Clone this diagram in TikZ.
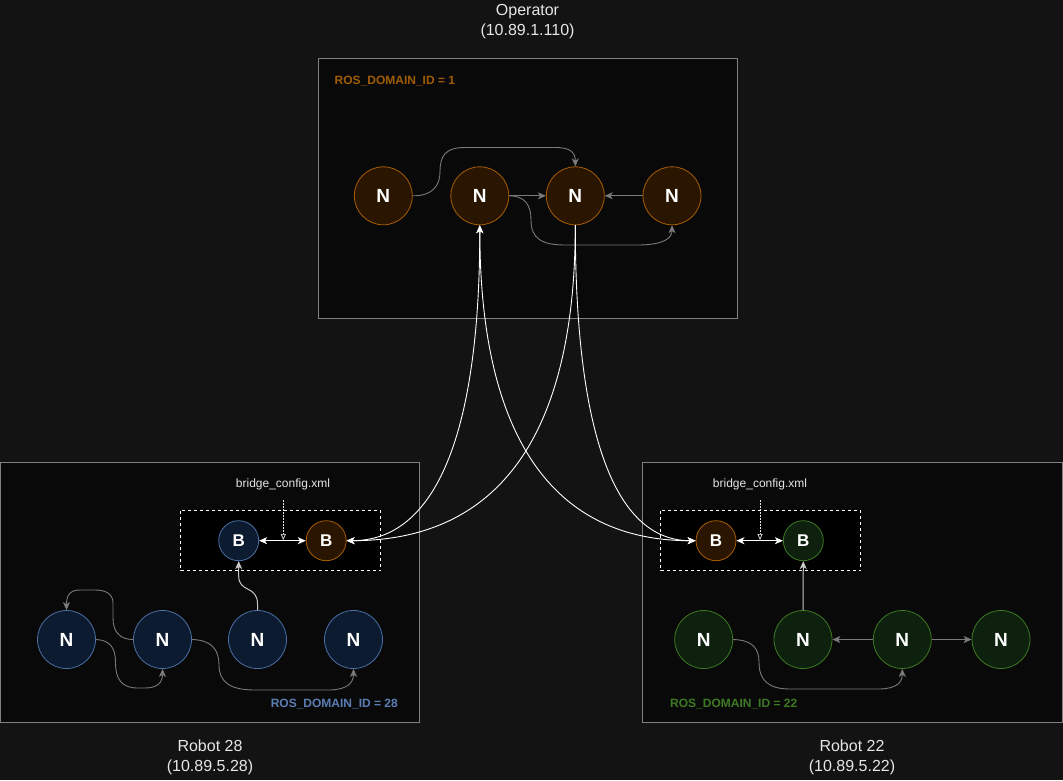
\documentclass[tikz,border=0pt]{standalone}
\usepackage{fontspec}
\setmainfont{Liberation Sans}
\usetikzlibrary{arrows.meta}
\definecolor{bgc}{HTML}{131313}
\definecolor{boxfill}{HTML}{090909}
\definecolor{boxline}{HTML}{808080}
\definecolor{orFill}{HTML}{2A1500}
\definecolor{orLine}{HTML}{A85E04}
\definecolor{orText}{HTML}{A05C05}
\definecolor{blFill}{HTML}{0C1B2F}
\definecolor{blLine}{HTML}{4A6FA5}
\definecolor{blText}{HTML}{5A7DB3}
\definecolor{grFill}{HTML}{0E200E}
\definecolor{grLine}{HTML}{3D7A22}
\definecolor{grText}{HTML}{3D7A22}
\definecolor{edgeg}{HTML}{7A7A7A}
\definecolor{edgel}{HTML}{C8C8C8}
\definecolor{titlec}{HTML}{E6E6E6}
\tikzset{
  nodebase/.style={circle, inner sep=0pt, line width=0.8pt, text=white},
  bigN/.style={nodebase, minimum size=58pt, font=\bfseries\fontsize{19}{19}\selectfont},
  smallB/.style={nodebase, minimum size=40pt, font=\bfseries\fontsize{17}{17}\selectfont},
  orN/.style={draw=orLine, fill=orFill},
  blN/.style={draw=blLine, fill=blFill},
  grN/.style={draw=grLine, fill=grFill},
  hostbox/.style={draw=boxline, fill=boxfill, line width=0.8pt},
  bridgebox/.style={draw=white, fill=black, dash pattern=on 3pt off 3pt, line width=0.8pt},
  hosttitle/.style={align=center, text=titlec, font=\fontsize{16}{20}\selectfont},
  domlabel/.style={font=\bfseries\fontsize{12}{14}\selectfont, inner sep=0pt},
  cfglabel/.style={text=titlec, font=\fontsize{12}{14}\selectfont, inner sep=0pt},
  arrowend/.style={-{Stealth[length=8pt,width=7pt,inset=2.2pt]}},
  arrowboth/.style={{Stealth[length=8pt,width=7pt,inset=2.2pt]}-{Stealth[length=8pt,width=7pt,inset=2.2pt]}},
  gedge/.style={draw=edgeg, line width=0.9pt, arrowend},
  ledge/.style={draw=edgel, line width=1pt, arrowend},
  wedge/.style={draw=white, line width=0.9pt},
  biedge/.style={draw=white, line width=1.2pt, arrowboth},
  dotedge/.style={draw=titlec, line width=0.7pt, dash pattern=on 1.5pt off 1.5pt, -{Triangle[open,length=6pt,width=5pt]}}
}
\begin{document}
\begin{tikzpicture}[x=1pt,y=-1pt]
\useasboundingbox (0,0) rectangle (1063,780);
\fill[bgc] (0,0) rectangle (1063,780);

% host boxes
\draw[hostbox] (318.5,58.5) rectangle (737,318);
\draw[hostbox] (0.5,462.5) rectangle (419,722);
\draw[hostbox] (642.5,462.5) rectangle (1062,722);

% titles
\node[hosttitle] (tOp) at (527.5,22) {Operator\\(10.89.1.110)};
\node[hosttitle] (tR28) at (210,757.5) {Robot 28\\(10.89.5.28)};
\node[hosttitle] (tR22) at (852,757.5) {Robot 22\\(10.89.5.22)};

% domain labels
\node[domlabel, text=orText, anchor=west] (d1) at (334.5,81) {ROS\_DOMAIN\_ID = 1};
\node[domlabel, text=blText, anchor=east] (d28) at (398,704) {ROS\_DOMAIN\_ID = 28};
\node[domlabel, text=grText, anchor=west] (d22) at (670,704) {ROS\_DOMAIN\_ID = 22};

% bridge boxes
\draw[bridgebox] (180.5,510.5) rectangle (380.5,570.5);
\draw[bridgebox] (660.5,510.5) rectangle (860.5,570.5);
\node[cfglabel] (cfgL) at (283,484) {bridge\_config.xml};
\node[cfglabel] (cfgR) at (760,484) {bridge\_config.xml};

% operator nodes
\node[bigN, orN] (o1) at (383.3,195.8) {N};
\node[bigN, orN] (o2) at (479.8,195.8) {N};
\node[bigN, orN] (o3) at (575.3,195.8) {N};
\node[bigN, orN] (o4) at (672,195.8) {N};

% robot 28 nodes
\node[bigN, blN] (r1) at (66.5,639.5) {N};
\node[bigN, blN] (r2) at (162.5,639.5) {N};
\node[bigN, blN] (r3) at (257.5,639.5) {N};
\node[bigN, blN] (r4) at (353.5,639.5) {N};
\node[smallB, blN] (lbb) at (238.7,540.7) {B};
\node[smallB, orN] (lbo) at (326.2,540.7) {B};

% robot 22 nodes
\node[bigN, grN] (g1) at (703.7,639.5) {N};
\node[bigN, grN] (g2) at (803,639.5) {N};
\node[bigN, grN] (g3) at (902.3,639.5) {N};
\node[bigN, grN] (g4) at (1001,639.5) {N};
\node[smallB, orN] (rbo) at (716,540.7) {B};
\node[smallB, grN] (rbg) at (803.3,540.7) {B};

% operator edges
\draw[gedge] (o1.east) .. controls (432,196) and (440,186) .. (440,172)
  .. controls (440,155) and (446,147.5) .. (465,147.5) -- (555,147.5)
  .. controls (570,147.5) and (575.3,152) .. (o3.north);
\draw[gedge] (o2.east) -- (o3.west);
\draw[gedge] (o4.west) -- (o3.east);
\draw[gedge] (o2.east) .. controls (525,196) and (531,205) .. (531,220)
  .. controls (531,238) and (541,245) .. (565,245) -- (640,245)
  .. controls (664,244.5) and (672,238) .. (o4.south);

% robot 28 edges
\draw[gedge] (r2.west) .. controls (120,639.5) and (113,632) .. (113,618) -- (113,603)
  .. controls (113,594) and (106,590) .. (95,590) -- (80,590)
  .. controls (70,590) and (66.5,595) .. (r1.north);
\draw[gedge] (r1.east) .. controls (110,640) and (115.5,648) .. (115.5,662)
  .. controls (115.5,680) and (122,688) .. (138,688) -- (145,688)
  .. controls (158,688) and (162.5,682) .. (r2.south);
\draw[gedge] (r2.east) .. controls (212,640) and (219,650) .. (219,665)
  .. controls (219,682) and (230,690) .. (255,690) -- (330,690)
  .. controls (347,689.5) and (353.5,683) .. (r4.south);
\draw[ledge] (r3.north) -- (257.5,604) .. controls (257.5,585) and (238.7,593) .. (238.7,576) -- (lbb.south);

% robot 22 edges
\draw[gedge] (g1.east) .. controls (752,640) and (759,648) .. (759,662)
  .. controls (759,680) and (768,689) .. (790,689) -- (880,689)
  .. controls (897,688.5) and (902.3,682) .. (g3.south);
\draw[gedge] (g3.west) -- (g2.east);
\draw[gedge] (g3.east) -- (g4.west);
\draw[ledge] (g2.north) -- (rbg.south);

% bridge internal links
\draw[biedge] (lbb.east) -- (lbo.west);
\draw[biedge] (rbo.east) -- (rbg.west);
\coordinate (cfgLa) at (283.3,500);
\coordinate (cfgLb) at (283.3,540);
\coordinate (cfgRa) at (760,500);
\coordinate (cfgRb) at (760,540);
\draw[dotedge] (cfgLa) -- (cfgLb);
\draw[dotedge] (cfgRa) -- (cfgRb);

% long links between operator and bridges
\draw[wedge, arrowboth] (lbo.east) .. controls (435.3,540.7) and (479.8,435.3) .. (o2.south);
\draw[wedge, arrowend] (o3.south) .. controls (575.3,435.3) and (498.7,540.7) .. (lbo.east);
\draw[wedge, arrowboth] (o2.south) .. controls (479.8,435.3) and (552,540.7) .. (rbo.west);
\draw[wedge, arrowend] (o3.south) .. controls (575.3,435.3) and (615.3,540.7) .. (rbo.west);
\end{tikzpicture}
\end{document}
